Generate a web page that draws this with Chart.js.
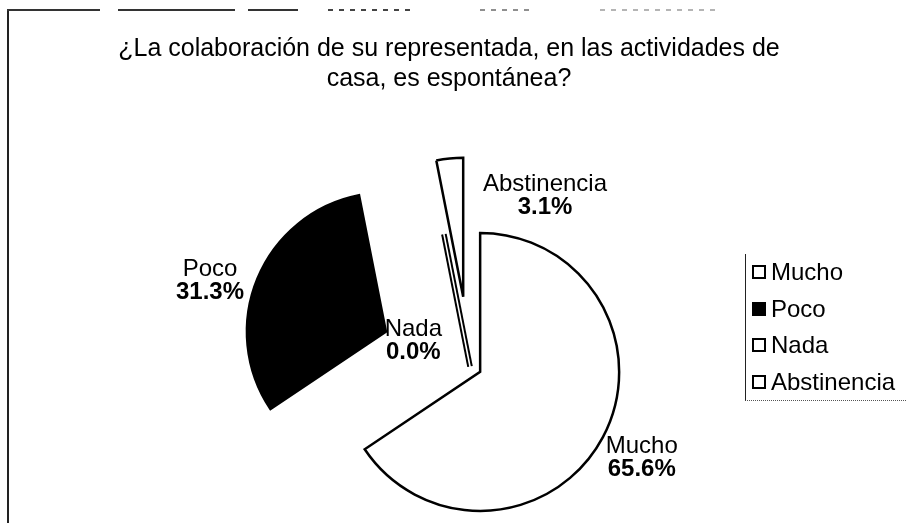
<!DOCTYPE html>
<html lang="es">
<head>
<meta charset="utf-8">
<title>¿La colaboración de su representada, en las actividades de casa, es espontánea?</title>
<script src="https://cdn.jsdelivr.net/npm/chart.js@4.4.1/dist/chart.umd.min.js"></script>
<style>
  html, body { margin: 0; background: #fff; }
  #wrap { position: relative; width: 909px; height: 523px; overflow: hidden; font-family: "Liberation Sans", Arial, sans-serif; color: #000; }
  #pie { position: absolute; left: 0; top: 0; }
  .frame-left { position: absolute; left: 7px; top: 9px; width: 2px; height: 514px; background: #222; }
  .frame-top { position: absolute; top: 9px; height: 2px; background: #333; }
  .frame-top.dots { background: repeating-linear-gradient(90deg, #444 0 5px, transparent 5px 11px); }
  #title { position: absolute; left: 0; top: 32px; width: 898px; text-align: center; font-size: 25px; line-height: 30px; }
  #legend { position: absolute; left: 745px; top: 254px; width: 160px; border-left: 1.5px solid #222; border-bottom: 1.5px dotted #555; }
  .item { display: flex; align-items: center; height: 36.5px; font-size: 24px; padding-left: 6px; }
  .swatch { width: 14px; height: 14px; box-sizing: border-box; border: 2px solid #000; margin-right: 5px; }
</style>
</head>
<body>
<div id="wrap">
  <div class="frame-left"></div>
  <div class="frame-top" style="left:7px;width:93px"></div>
  <div class="frame-top" style="left:118px;width:117px"></div>
  <div class="frame-top" style="left:248px;width:50px"></div>
  <div class="frame-top dots" style="left:328px;width:82px"></div>
  <div class="frame-top dots" style="left:480px;width:50px;opacity:.6"></div>
  <div class="frame-top dots" style="left:600px;width:120px;opacity:.4"></div>
  <canvas id="pie" width="909" height="523"></canvas>
  <div id="title">¿La colaboración de su representada, en las actividades de<br>casa, es espontánea?</div>
  <div id="legend"></div>
</div>
<script>
const categories = ["Mucho", "Poco", "Nada", "Abstinencia"];
const percentages = [65.6, 31.3, 0.0, 3.1];
const fills = ["#ffffff", "#000000", "#ffffff", "#ffffff"];

// how far each slice is pulled out (px) and where its label sits: [angle deg, px from tip]
const explode = [11.5, 91, 0, 70];
const labelSpots = [[28, 183], [196, 183], [204, 62], [-51, 130]];
const RADIUS = 139;

// pull each slice out along its own middle angle
const explodeSlices = {
  id: "explodeSlices",
  afterDatasetsUpdate(chart) {
    chart.getDatasetMeta(0).data.forEach((arc, i) => {
      const mid = (arc.startAngle + arc.endAngle) / 2;
      arc.x += Math.cos(mid) * explode[i];
      arc.y += Math.sin(mid) * explode[i];
    });
  }
};

const sliceLabels = {
  id: "sliceLabels",
  afterDatasetsDraw(chart) {
    const ctx = chart.ctx;
    chart.getDatasetMeta(0).data.forEach((arc, i) => {
      ctx.save();
      if (arc.circumference === 0) {
        // a 0% slice still shows as a thin sliver
        const a = arc.startAngle;
        const nx = -Math.sin(a), ny = Math.cos(a);
        ctx.strokeStyle = "#000";
        ctx.lineWidth = 2;
        [-1.8, 1.8].forEach((s) => {
          ctx.beginPath();
          ctx.moveTo(arc.x + nx * s, arc.y + ny * s);
          ctx.lineTo(arc.x + nx * s + Math.cos(a) * arc.outerRadius * 0.97, arc.y + ny * s + Math.sin(a) * arc.outerRadius * 0.97);
          ctx.stroke();
        });
      }
      const [deg, dist] = labelSpots[i];
      const lx = arc.x + Math.cos(deg * Math.PI / 180) * dist;
      const ly = arc.y + Math.sin(deg * Math.PI / 180) * dist;
      ctx.fillStyle = "#000";
      ctx.textAlign = "center";
      ctx.textBaseline = "middle";
      ctx.font = '24px "Liberation Sans", Arial, sans-serif';
      ctx.fillText(chart.data.labels[i], lx, ly - 11.5);
      ctx.font = 'bold 24px "Liberation Sans", Arial, sans-serif';
      ctx.fillText(chart.data.datasets[0].data[i].toFixed(1) + "%", lx, ly + 11.5);
      ctx.restore();
    });
  }
};

new Chart(document.getElementById("pie"), {
  type: "pie",
  data: {
    labels: categories,
    datasets: [
      {
        data: percentages,
        backgroundColor: fills,
        borderColor: "#000",
        borderWidth: 2.5,
        borderJoinStyle: "miter",
        radius: RADIUS
      }
    ]
  },
  options: {
    responsive: false,
    devicePixelRatio: 1,
    animation: false,
    events: [],
    cutout: "0%",
    layout: { padding: { left: 31, right: 0, top: 210, bottom: 0 } },
    plugins: { legend: { display: false }, title: { display: false }, tooltip: { enabled: false } }
  },
  plugins: [explodeSlices, sliceLabels]
});

document.getElementById("legend").innerHTML = categories
  .map((name, i) => `<div class="item"><span class="swatch" style="background:${fills[i]}"></span>${name}</div>`)
  .join("");
</script>
</body>
</html>
